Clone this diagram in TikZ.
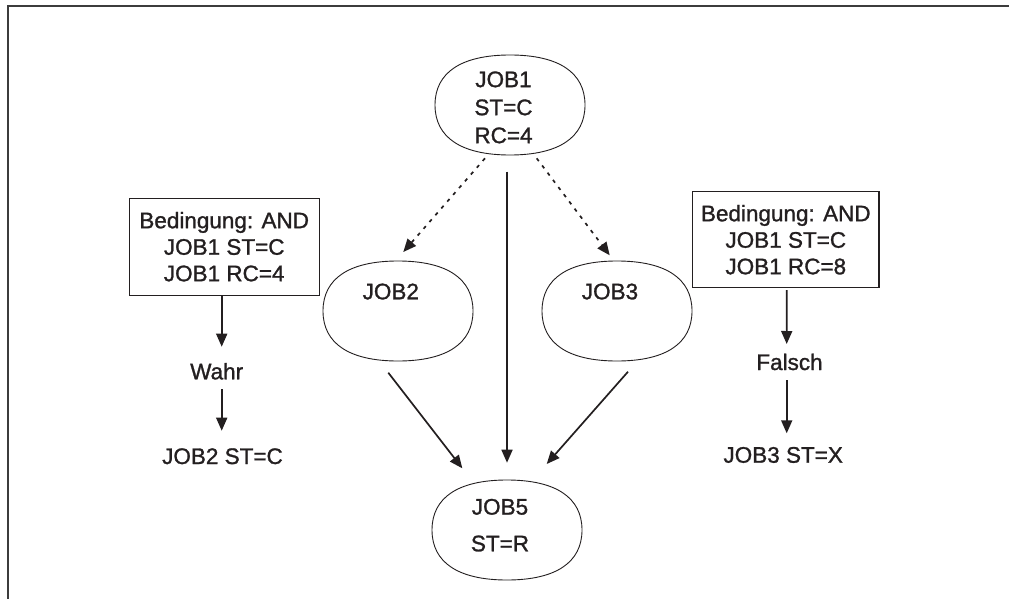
\documentclass[tikz,border=0pt]{standalone}
\usepackage{fontspec}
\setmainfont{Liberation Sans}[RawFeature={embolden=1.2}]
\usetikzlibrary{arrows.meta,calc}
\definecolor{ink}{HTML}{231F20}
\definecolor{rulegray}{HTML}{3C3C3C}
% outline of a job node: a rounded "superellipse" through the four side anchors
\newcommand\joboutline[1]{%
  \draw[jobline]
    (#1.north) .. controls ($(#1.north)!0.65!(#1.north east)$) and ($(#1.east)!0.65!(#1.north east)$) .. (#1.east)
               .. controls ($(#1.east)!0.65!(#1.south east)$) and ($(#1.south)!0.65!(#1.south east)$) .. (#1.south)
               .. controls ($(#1.south)!0.65!(#1.south west)$) and ($(#1.west)!0.65!(#1.south west)$) .. (#1.west)
               .. controls ($(#1.west)!0.65!(#1.north west)$) and ($(#1.north)!0.65!(#1.north west)$) .. (#1.north)
    -- cycle;}
\begin{document}
\begin{tikzpicture}[x=1pt,y=-1pt,
  every node/.style={font=\fontsize{22.5}{26.5}\selectfont, text=ink, inner sep=0pt, outer sep=0pt},
  jobshape/.style={minimum width=150pt, minimum height=100pt},
  jobline/.style={draw=ink, line width=0.9pt},
  condbox/.style={draw=ink, line width=1.1pt, align=center},
  arr/.style={draw=ink, line width=1.7pt, -{Triangle[length=13pt,width=11pt]}},
  dotarr/.style={arr, dash pattern=on 3.5pt off 5.5pt},
  framerule/.style={draw=rulegray, line width=2pt}
]
\useasboundingbox (0,0) rectangle (1009,599);

% outer frame (top and left edge only)
\draw[framerule] (1009,5.7) -- (7.7,5.7) -- (7.7,599);

% job nodes
\node[jobshape] (job1) at (510,105) {};
\node[jobshape] (job2) at (398,311) {};
\node[jobshape] (job3) at (617,311) {};
\node[jobshape] (job5) at (507,530) {};
\joboutline{job1}
\joboutline{job2}
\joboutline{job3}
\joboutline{job5}

% job labels
\node[align=center, font=\fontsize{22.5}{28}\selectfont] (job1txt) at (503.5,107.4) {JOB1\\ST=C\\RC=4};
\node[anchor=base] (job2txt) at (390.8,299.3) {JOB2};
\node[anchor=base] (job3txt) at (610,299.3) {JOB3};
\node[align=center, font=\fontsize{22.5}{36.7}\selectfont] (job5txt) at (500,525.2) {JOB5\\ST=R};

% condition boxes
\node[condbox, minimum width=189.7pt, minimum height=96.7pt] (boxl) at (224.2,246.7)
  {Bedingung: AND\\JOB1 ST=C\\JOB1 RC=4};
\node[condbox, minimum width=186.3pt, minimum height=96pt] (boxr) at (785.8,239.7)
  {Bedingung: AND\\JOB1 ST=C\\JOB1 RC=8};

% condition results
\node[anchor=base] (wahr) at (216.7,379.3) {Wahr};
\node[anchor=base] (job2st) at (222.5,464) {JOB2 ST=C};
\node[anchor=base] (falsch) at (789.5,370) {Falsch};
\node[anchor=base] (job3st) at (783.2,462.7) {JOB3 ST=X};

% dependencies between jobs
\draw[dotarr] ($(job1.south)+(-25,3.3)$) -- ($(job2.north)+(5.3,-9)$);
\draw[dotarr] ($(job1.south)+(26.7,3.3)$) -- ($(job3.north)+(-7.3,-5.7)$);
\draw[arr] ($(job5.north |- job1.south)+(0,16.7)$) -- ($(job5.north)+(0,-17.3)$);
\draw[arr] ($(job2.south)+(-9.7,11.7)$) -- ($(job5.north)+(-44.7,-11.7)$);
\draw[arr] ($(job3.south)+(11,10.7)$) -- ($(job5.north)+(39.7,-16)$);

% evaluation of the conditions
\draw[arr] ($(boxl.south)+(-2.5,1)$) -- ($(wahr.base)+(5,-32.6)$);
\draw[arr] ($(wahr.base)+(5,10)$) -- ($(job2st.base)+(-0.8,-33.3)$);
\draw[arr] ($(boxr.south)+(1,2.3)$) -- ($(falsch.base)+(-2.8,-26)$);
\draw[arr] ($(falsch.base)+(-2.8,10)$) -- ($(job3st.base)+(3.5,-29.4)$);
\end{tikzpicture}
\end{document}
